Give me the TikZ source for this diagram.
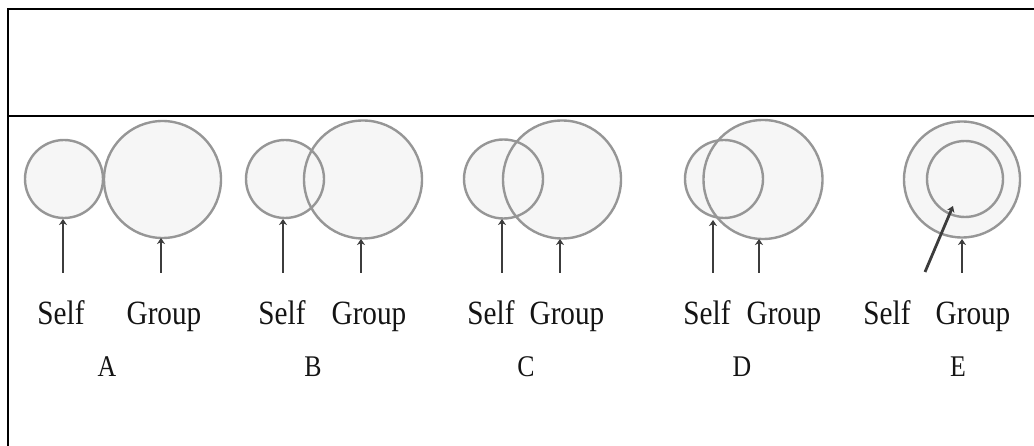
\documentclass[tikz,border=0pt]{standalone}
\usepackage{graphicx}
\usepackage{fontspec}
\setmainfont{Liberation Serif}
\usetikzlibrary{arrows.meta,backgrounds}
\definecolor{ringc}{RGB}{150,150,150}
\definecolor{fillc}{RGB}{246,246,246}
\definecolor{arrc}{RGB}{60,60,60}
\definecolor{txtc}{RGB}{20,20,20}
\newcommand\narrowtxt[1]{\scalebox{0.86}[1]{#1}}
\begin{document}
\begin{tikzpicture}[x=1pt,y=-1pt,
  ring/.style={circle,draw=ringc,line width=2.4pt,inner sep=0pt,outer sep=0pt,minimum size=#1},
  ptr/.style={draw=arrc,line width=2.8pt,-{Stealth[length=6pt,width=8pt]}},
  word/.style={anchor=base,inner sep=0pt,text=txtc,font=\fontsize{34}{34}\selectfont},
  tag/.style={anchor=base,inner sep=0pt,text=txtc,font=\fontsize{30}{30}\selectfont},
  frameline/.style={line width=2pt,black}]
\useasboundingbox (0,0) rectangle (1034,446);
% frame
\coordinate (tl) at (8,9);
\coordinate (tr) at (1034,9);
\coordinate (bl) at (8,446);
\coordinate (ml) at (8,116);
\coordinate (mr) at (1034,116);
\draw[frameline] (tr) -- (tl) -- (bl);
\draw[line width=1.5pt,black] (ml) -- (mr);
% circles
\node[ring=78]  (sA) at (64,179) {};
\node[ring=117] (gA) at (162.5,179.5) {};
\node[ring=78]  (sB) at (285,179) {};
\node[ring=118] (gB) at (363,179.5) {};
\node[ring=79]  (sC) at (503.5,179) {};
\node[ring=118] (gC) at (562,179.5) {};
\node[ring=78]  (sD) at (724,179) {};
\node[ring=119] (gD) at (763,179.5) {};
\node[ring=116] (gE) at (962,179.5) {};
\node[ring=76]  (sE) at (965,179) {};
\begin{scope}[on background layer]
  \foreach \n/\r in {sA/39,gA/58.5,sB/39,gB/59,sC/39.5,gC/59,sD/39,gD/59.5,gE/58,sE/38}
    \fill[fillc] (\n.center) circle[radius=\r];
\end{scope}
% arrows
\coordinate (aA1) at (63,273);  \coordinate (tA1) at (63,219);
\coordinate (aA2) at (161,273); \coordinate (tA2) at (161,238);
\coordinate (aB1) at (283,273); \coordinate (tB1) at (283,219);
\coordinate (aB2) at (361,273); \coordinate (tB2) at (361,239);
\coordinate (aC1) at (502,273); \coordinate (tC1) at (502,219);
\coordinate (aC2) at (560,273); \coordinate (tC2) at (560,239);
\coordinate (aD1) at (713,273); \coordinate (tD1) at (713,220);
\coordinate (aD2) at (759,273); \coordinate (tD2) at (759,239);
\coordinate (aE1) at (925,272); \coordinate (tE1) at (953,206);
\coordinate (aE2) at (962,273); \coordinate (tE2) at (962,239);
\foreach \k in {A1,A2,B1,B2,C1,C2,D1,D2,E1,E2}
  \draw[ptr] (a\k) -- (t\k);
% labels
\node[word] (lsA) at (61,325)  {\narrowtxt{Self}};
\node[word] (lgA) at (164,325) {\narrowtxt{Group}};
\node[tag]  (lA)  at (107,377) {\narrowtxt{A}};
\node[word] (lsB) at (282,325) {\narrowtxt{Self}};
\node[word] (lgB) at (369,325) {\narrowtxt{Group}};
\node[tag]  (lB)  at (313,377) {\narrowtxt{B}};
\node[word] (lsC) at (491,325) {\narrowtxt{Self}};
\node[word] (lgC) at (567,325) {\narrowtxt{Group}};
\node[tag]  (lC)  at (526,377) {\narrowtxt{C}};
\node[word] (lsD) at (707,325) {\narrowtxt{Self}};
\node[word] (lgD) at (784,325) {\narrowtxt{Group}};
\node[tag]  (lD)  at (742,377) {\narrowtxt{D}};
\node[word] (lsE) at (887,325) {\narrowtxt{Self}};
\node[word] (lgE) at (973,325) {\narrowtxt{Group}};
\node[tag]  (lE)  at (958,377) {\narrowtxt{E}};
\end{tikzpicture}
\end{document}
